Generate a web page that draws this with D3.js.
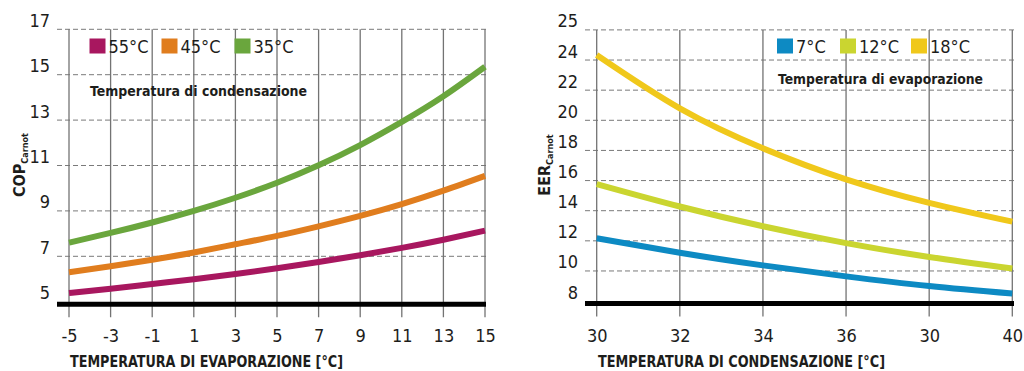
<!DOCTYPE html>
<html>
<head>
<meta charset="utf-8">
<title>COP / EER Carnot</title>
<script src="https://cdn.jsdelivr.net/npm/d3@7"></script>
<style>
body { margin: 0; background: #fff; }
svg { display: block; }
text { fill: #1d1d1b; }
</style>
</head>
<body>
<div id="chart"></div>
<script>
var W = 1024, H = 371;
var baseFont = '"DejaVu Sans Condensed", "Liberation Sans Narrow", sans-serif';

// left chart: COP vs evaporation temperature
var evapTemps = [-5, -3, -1, 1, 3, 5, 7, 9, 11, 13, 15];
var cop55 = [5.38, 5.57, 5.78, 5.99, 6.22, 6.47, 6.75, 7.05, 7.37, 7.73, 8.13];
var cop45 = [6.3, 6.56, 6.85, 7.17, 7.53, 7.9, 8.32, 8.78, 9.3, 9.89, 10.54];
var cop35 = [7.6, 8.03, 8.49, 9.0, 9.58, 10.24, 11.01, 11.9, 12.92, 14.05, 15.35];
var copTicks = [5, 7, 9, 11, 13, 15, 17];
var copLabels = ['55°C', '45°C', '35°C'];

// right chart: EER vs condensation temperature
var condTemps = [30, 32, 34, 36, 38, 40];
var condTickLabels = ['30', '32', '34', '36', '30', '40'];
var eer7 = [12.17, 11.21, 10.37, 9.64, 9.0, 8.5];
var eer12 = [15.77, 14.28, 12.97, 11.85, 10.93, 10.17];
var eer18 = [24.33, 20.79, 18.14, 16.08, 14.52, 13.27];
var eerTicks = [8, 10, 12, 14, 16, 18, 20, 22, 24, 26];
var eerTickLabels = ['8', '10', '12', '14', '16', '18', '20', '22', '24', '25'];
var eerLabels = ['7°C', '12°C', '18°C'];

var svg = d3.select('#chart').append('svg')
  .attr('width', W)
  .attr('height', H);

function drawPanel(o) {
  var x = d3.scaleLinear().domain(o.xDomain).range(o.xRange);
  var y = d3.scaleLinear().domain(o.yDomain).range(o.yRange);
  var g = svg.append('g');
  var yBase = y(o.yDomain[0]) + 2.5;

  // horizontal dashed grid
  g.selectAll('.hgrid')
    .data(o.yTicks.slice(1))
    .enter().append('line')
    .attr('x1', o.gridLeft).attr('x2', o.gridRight)
    .attr('y1', function(d) { return y(d); })
    .attr('y2', function(d) { return y(d); })
    .attr('stroke', '#7a7a7a')
    .attr('stroke-width', 1)
    .attr('stroke-dasharray', '5,3');

  // vertical lines
  g.selectAll('.vgrid')
    .data(o.xTicks)
    .enter().append('line')
    .attr('x1', function(d) { return x(d); })
    .attr('x2', function(d) { return x(d); })
    .attr('y1', y(o.yTicks[o.yTicks.length - 1]))
    .attr('y2', yBase + 13)
    .attr('stroke', '#737373')
    .attr('stroke-width', 1.3);

  // y axis labels, sitting above the grid lines
  var ya = g.append('g')
    .attr('transform', 'translate(' + (o.gridLeft - 7) + ',0)')
    .call(d3.axisLeft(y).tickValues(o.yTicks).tickSize(0).tickPadding(0)
      .tickFormat(function(d, i) { return o.yTickLabels[i]; }));
  ya.select('.domain').remove();
  ya.selectAll('text')
    .attr('dy', null)
    .attr('y', -3)
    .style('font-family', baseFont)
    .style('font-size', '18px')
    .style('fill', '#1d1d1b');

  // x axis labels
  var xa = g.append('g')
    .attr('transform', 'translate(0,' + (yBase + 13) + ')')
    .call(d3.axisBottom(x).tickValues(o.xTicks).tickSize(0).tickPadding(0)
      .tickFormat(function(d, i) { return o.xTickLabels[i]; }));
  xa.select('.domain').remove();
  xa.selectAll('text')
    .attr('dy', null)
    .attr('y', 25)
    .style('font-family', baseFont)
    .style('font-size', '18px')
    .style('fill', '#1d1d1b');

  // baseline
  g.append('line')
    .attr('x1', o.gridLeft).attr('x2', o.gridRight)
    .attr('y1', yBase).attr('y2', yBase)
    .attr('stroke', '#000')
    .attr('stroke-width', 5);

  // curves
  var line = d3.line()
    .x(function(d) { return x(d[0]); })
    .y(function(d) { return y(d[1]); })
    .curve(d3.curveNatural);
  o.series.forEach(function(s, i) {
    g.append('path')
      .datum(o.xValues.map(function(v, j) { return [v, s[j]]; }))
      .attr('fill', 'none')
      .attr('stroke', o.colors[i])
      .attr('stroke-width', 6)
      .attr('d', line);
  });

  // legend
  var lg = g.append('g');
  o.legend.forEach(function(t, i) {
    var lx = o.legendX[i];
    lg.append('rect')
      .attr('x', lx).attr('y', 38.5)
      .attr('width', 16).attr('height', 15)
      .attr('fill', o.colors[i]);
    lg.append('text')
      .attr('x', lx + 19).attr('y', 52.5)
      .style('font-family', baseFont)
      .style('font-size', '18px')
      .text(t);
  });
  lg.append('text')
    .attr('x', o.noteX).attr('y', o.noteY)
    .attr('textLength', o.noteW)
    .attr('lengthAdjust', 'spacingAndGlyphs')
    .style('font-family', baseFont)
    .style('font-weight', 'bold')
    .style('font-size', '14.5px')
    .text(o.note);

  // axis titles
  g.append('text')
    .attr('x', o.xTitleX).attr('y', 367)
    .attr('textLength', o.xTitleW)
    .attr('lengthAdjust', 'spacingAndGlyphs')
    .style('font-family', baseFont)
    .style('font-weight', 'bold')
    .style('font-size', '15.5px')
    .text(o.xTitle);

  var yt = g.append('text')
    .attr('transform', 'translate(' + o.yTitleX + ',165) rotate(-90)')
    .attr('text-anchor', 'middle')
    .style('font-family', baseFont)
    .style('font-weight', 'bold')
    .style('font-size', '16px');
  yt.append('tspan').text(o.yTitle);
  yt.append('tspan')
    .attr('dy', 3)
    .style('font-size', '9px')
    .text('Carnot');
}

drawPanel({
  xDomain: [-5, 15], xRange: [69, 485],
  yDomain: [5, 17], yRange: [301.7, 29.3],
  xTicks: evapTemps, xTickLabels: evapTemps.map(String),
  yTicks: copTicks, yTickLabels: copTicks.map(String),
  gridLeft: 57, gridRight: 486,
  xValues: evapTemps,
  series: [cop55, cop45, cop35],
  colors: ['#a8175f', '#e07d1e', '#6aa63d'],
  legend: copLabels, legendX: [89.5, 161.5, 234.5],
  note: 'Temperatura di condensazione', noteX: 90, noteY: 96, noteW: 217,
  xTitle: 'TEMPERATURA DI EVAPORAZIONE [°C]', xTitleX: 70, xTitleW: 273,
  yTitle: 'COP', yTitleX: 25
});

drawPanel({
  xDomain: [30, 40], xRange: [596.7, 1012.3],
  yDomain: [8, 26], yRange: [301.1, 29.9],
  xTicks: condTemps, xTickLabels: condTickLabels,
  yTicks: eerTicks, yTickLabels: eerTickLabels,
  gridLeft: 585, gridRight: 1014,
  xValues: condTemps,
  series: [eer7, eer12, eer18],
  colors: ['#0d8ac3', '#cad530', '#f0c81b'],
  legend: eerLabels, legendX: [777, 840, 911],
  note: 'Temperatura di evaporazione', noteX: 778, noteY: 84, noteW: 205,
  xTitle: 'TEMPERATURA DI CONDENSAZIONE [°C]', xTitleX: 598, xTitleW: 287,
  yTitle: 'EER', yTitleX: 550
});
</script>
</body>
</html>
